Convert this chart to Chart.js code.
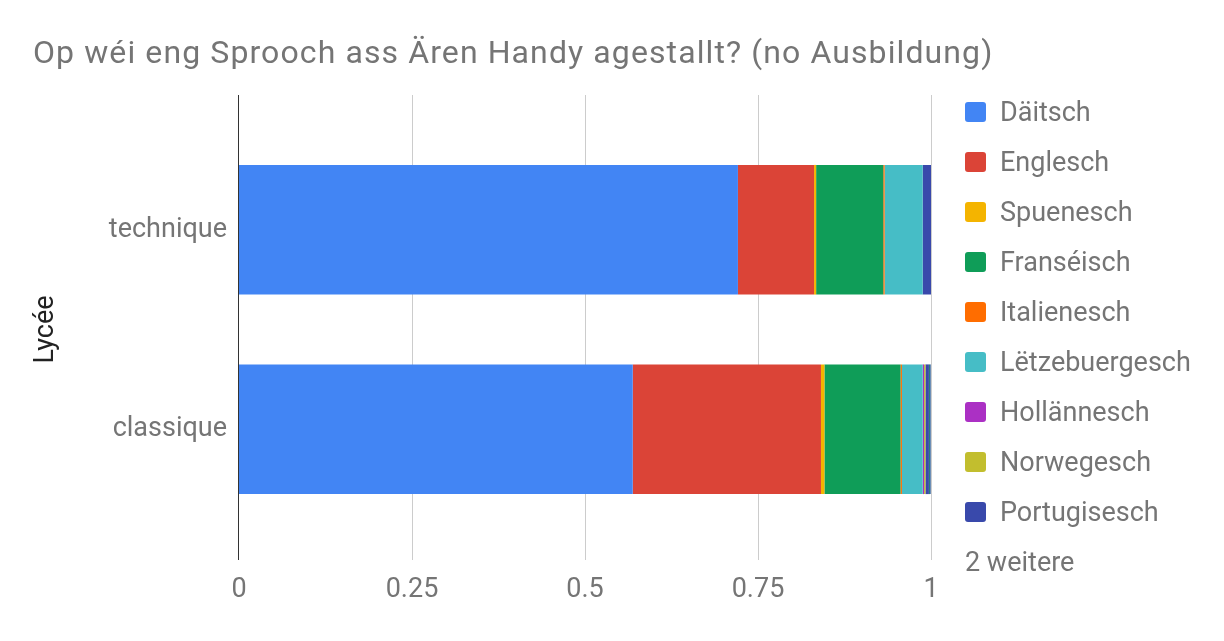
<!DOCTYPE html>
<html>
<head>
<meta charset="utf-8">
<script src="https://cdn.jsdelivr.net/npm/chart.js@4/dist/chart.umd.min.js"></script>
<style>
  body { margin: 0; background: #fff; font-family: Roboto, sans-serif; }
  #wrap { position: relative; width: 1224px; height: 641px; }
  #title { position: absolute; left: 33px; top: 33px; font-size: 32px; letter-spacing: 1.1px; color: #757575; white-space: nowrap; }
  #legend { position: absolute; left: 965px; top: 87px; font-size: 27px; color: #757575; }
  .item { height: 50px; display: flex; align-items: center; white-space: nowrap; }
  .box { width: 21px; height: 20px; border-radius: 3px; margin-right: 14px; }
</style>
</head>
<body>
<div id="wrap">
  <canvas id="chart" width="1224" height="641"></canvas>
  <div id="title">Op wéi eng Sprooch ass Ären Handy agestallt? (no Ausbildung)</div>
  <div id="legend"></div>
</div>
<script>
const categories = ['technique', 'classique'];
const languages = ['Däitsch', 'Englesch', 'Spuenesch', 'Franséisch', 'Italienesch',
  'Lëtzebuergesch', 'Hollännesch', 'Norwegesch', 'Portugisesch', 'Aner 1', 'Aner 2'];
const colors = ['#4285F4', '#DB4437', '#F4B400', '#0F9D58', '#FF6D00',
  '#46BDC6', '#AB30C4', '#C2BE2E', '#3949AB', '#2A7E7A', '#5C6BC0'];
// share per language: [technique, classique]
const daitsch = [0.721, 0.569];
const englesch = [0.110, 0.272];
const spuenesch = [0.003, 0.005];
const franseisch = [0.097, 0.110];
const italienesch = [0.002, 0.002];
const letzebuergesch = [0.055, 0.030];
const hollannesch = [0, 0.002];
const norwegesch = [0, 0.002];
const portugisesch = [0.012, 0.005];
const aner1 = [0, 0.002];
const aner2 = [0, 0.001];
const xTicks = [0, 0.25, 0.5, 0.75, 1];
const legendShown = 9; // the rest is folded into "2 weitere"

const values = [daitsch, englesch, spuenesch, franseisch, italienesch,
  letzebuergesch, hollannesch, norwegesch, portugisesch, aner1, aner2];

const datasets = languages.map((name, i) => ({
  label: name,
  data: values[i],
  backgroundColor: colors[i],
  borderWidth: 0,
  barPercentage: 0.65,
  categoryPercentage: 1
}));

// vertical gridlines run a bit past the plot area, like the original
const gridLines = {
  id: 'gridLines',
  beforeDatasetsDraw(chart) {
    const ctx = chart.ctx;
    const x = chart.scales.x;
    ctx.save();
    ctx.strokeStyle = '#cccccc';
    ctx.lineWidth = 1;
    xTicks.slice(1).forEach(v => {
      const px = Math.round(x.getPixelForValue(v)) + 0.5;
      ctx.beginPath();
      ctx.moveTo(px, 95);
      ctx.lineTo(px, 560);
      ctx.stroke();
    });
    ctx.restore();
  },
  afterDatasetsDraw(chart) {
    const ctx = chart.ctx;
    const px = Math.round(chart.scales.x.getPixelForValue(0)) - 0.5;
    ctx.save();
    ctx.strokeStyle = '#333333';
    ctx.lineWidth = 1;
    ctx.beginPath();
    ctx.moveTo(px, 95);
    ctx.lineTo(px, 560);
    ctx.stroke();
    ctx.restore();
  }
};

new Chart(document.getElementById('chart'), {
  type: 'bar',
  data: { labels: categories, datasets: datasets },
  options: {
    indexAxis: 'y',
    responsive: false,
    animation: false,
    layout: { padding: { top: 130, right: 293, bottom: 0, left: 0 } },
    plugins: {
      legend: { display: false },
      tooltip: { enabled: false }
    },
    scales: {
      x: {
        stacked: true,
        min: 0,
        max: 1,
        afterBuildTicks: s => { s.ticks = xTicks.map(v => ({ value: v })); },
        afterFit: s => { s.height = 112; },
        grid: { display: false, drawTicks: false },
        border: { display: false },
        ticks: {
          padding: 45,
          color: '#757575',
          font: { family: 'Roboto', size: 27 },
          callback: v => String(v)
        }
      },
      y: {
        stacked: true,
        afterFit: s => { s.width = 239; },
        grid: { display: false, drawTicks: false },
        border: { display: false },
        ticks: { padding: 12, color: '#757575', font: { family: 'Roboto', size: 27 } },
        title: {
          display: true,
          text: 'Lycée',
          color: '#222222',
          padding: { top: 30 },
          font: { family: 'Roboto', size: 27 }
        }
      }
    }
  },
  plugins: [gridLines]
});

const legend = document.getElementById('legend');
languages.slice(0, legendShown).forEach((name, i) => {
  const row = document.createElement('div');
  row.className = 'item';
  row.innerHTML = '<span class="box" style="background:' + colors[i] + '"></span>' + name;
  legend.appendChild(row);
});
const more = document.createElement('div');
more.className = 'item';
more.textContent = (languages.length - legendShown) + ' weitere';
legend.appendChild(more);
</script>
</body>
</html>
